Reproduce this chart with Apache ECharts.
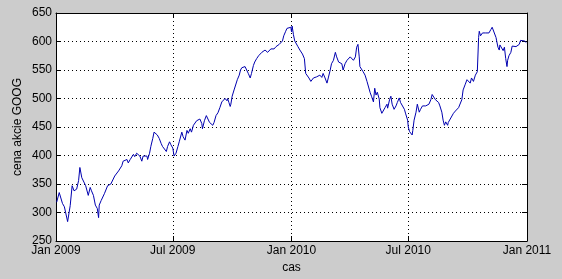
<!DOCTYPE html>
<html><head><meta charset="utf-8">
<script src="https://cdn.jsdelivr.net/npm/echarts@6/dist/echarts.min.js"></script>
<style>html,body{margin:0;padding:0;background:#cccccc}#c{width:562px;height:279px}</style>
</head><body><div id="c"></div><script>
const dates = [
'2009-01-02','2009-01-06','2009-01-11','2009-01-14','2009-01-19','2009-01-23','2009-01-26','2009-01-29',
'2009-02-02','2009-02-05','2009-02-07','2009-02-10','2009-02-12','2009-02-16','2009-02-18','2009-02-20','2009-02-23','2009-02-25','2009-02-28',
'2009-03-03','2009-03-06','2009-03-08','2009-03-09','2009-03-12','2009-03-14','2009-03-17','2009-03-19','2009-03-22','2009-03-25','2009-03-27','2009-03-30',
'2009-04-02','2009-04-05','2009-04-08','2009-04-10','2009-04-13','2009-04-15','2009-04-18','2009-04-21','2009-04-23','2009-04-26','2009-04-28',
'2009-05-01','2009-05-03','2009-05-06','2009-05-09','2009-05-11','2009-05-14','2009-05-16','2009-05-19','2009-05-22','2009-05-23','2009-05-26','2009-05-28','2009-05-31',
'2009-06-02','2009-06-05','2009-06-07','2009-06-10','2009-06-13','2009-06-15','2009-06-18','2009-06-21','2009-06-23','2009-06-26','2009-06-28',
'2009-07-01','2009-07-03','2009-07-06','2009-07-09','2009-07-11','2009-07-15','2009-07-17','2009-07-20','2009-07-23','2009-07-25','2009-07-28','2009-07-30',
'2009-08-02','2009-08-05','2009-08-07','2009-08-10','2009-08-12','2009-08-15','2009-08-16','2009-08-19','2009-08-22','2009-08-24','2009-08-27','2009-08-29',
'2009-09-01','2009-09-03','2009-09-06','2009-09-09','2009-09-12','2009-09-15','2009-09-17','2009-09-20','2009-09-23','2009-09-24','2009-09-26','2009-09-28','2009-09-29',
'2009-10-01','2009-10-04','2009-10-07','2009-10-09','2009-10-12','2009-10-14','2009-10-16','2009-10-18','2009-10-21','2009-10-24','2009-10-26','2009-10-29','2009-10-31',
'2009-11-03','2009-11-05','2009-11-08','2009-11-11','2009-11-13','2009-11-16','2009-11-18','2009-11-21','2009-11-24','2009-11-25','2009-11-28','2009-11-30',
'2009-12-03','2009-12-05','2009-12-08','2009-12-11','2009-12-13','2009-12-16','2009-12-18','2009-12-20','2009-12-23','2009-12-25','2009-12-28','2009-12-31',
'2010-01-01','2010-01-02','2010-01-04','2010-01-06','2010-01-09','2010-01-11','2010-01-14','2010-01-16','2010-01-18','2010-01-19','2010-01-21','2010-01-23','2010-01-26','2010-01-28','2010-01-31',
'2010-02-02','2010-02-04','2010-02-07','2010-02-09','2010-02-12','2010-02-14','2010-02-17','2010-02-19','2010-02-22','2010-02-25','2010-02-27',
'2010-03-02','2010-03-04','2010-03-07','2010-03-10','2010-03-12','2010-03-15','2010-03-17','2010-03-20','2010-03-22','2010-03-25','2010-03-28','2010-03-30',
'2010-04-02','2010-04-04','2010-04-07','2010-04-10','2010-04-12','2010-04-14','2010-04-16','2010-04-17','2010-04-20','2010-04-22','2010-04-25','2010-04-28','2010-04-30',
'2010-05-03','2010-05-05','2010-05-08','2010-05-10','2010-05-12','2010-05-14','2010-05-17','2010-05-18','2010-05-21','2010-05-23','2010-05-26','2010-05-29','2010-05-30',
'2010-06-02','2010-06-04','2010-06-06','2010-06-09','2010-06-12','2010-06-14','2010-06-17','2010-06-19','2010-06-22','2010-06-25','2010-06-27','2010-06-30',
'2010-07-01','2010-07-03','2010-07-05','2010-07-07','2010-07-08','2010-07-10','2010-07-13','2010-07-15','2010-07-17','2010-07-18','2010-07-20','2010-07-23','2010-07-26','2010-07-28','2010-07-31',
'2010-08-02','2010-08-05','2010-08-07','2010-08-09','2010-08-12','2010-08-14','2010-08-17','2010-08-19','2010-08-22','2010-08-24','2010-08-26','2010-08-28','2010-08-31',
'2010-09-01','2010-09-04','2010-09-06','2010-09-09','2010-09-12','2010-09-14','2010-09-17','2010-09-19','2010-09-22','2010-09-24','2010-09-27','2010-09-30',
'2010-10-02','2010-10-05','2010-10-07','2010-10-10','2010-10-13','2010-10-15','2010-10-16','2010-10-18','2010-10-19','2010-10-21','2010-10-24','2010-10-27','2010-10-29',
'2010-11-01','2010-11-03','2010-11-06','2010-11-08','2010-11-11','2010-11-14','2010-11-15','2010-11-17','2010-11-19','2010-11-20','2010-11-23','2010-11-25','2010-11-27','2010-11-29',
'2010-12-01','2010-12-02','2010-12-04','2010-12-07','2010-12-09','2010-12-12','2010-12-15','2010-12-17','2010-12-20','2010-12-22','2010-12-25','2010-12-28','2010-12-30','2010-12-31'
];
const prices = [
318,335,316,310,284,312,347,338,
341,356,379,361,364,347,350,330,344,338,330,
313,307,291,313,321,318,333,330,347,344,350,347,
364,361,373,370,382,390,387,393,387,393,396,
402,398,404,407,399,390,399,396,399,393,404,416,430,
441,444,436,430,421,416,419,407,416,424,419,
413,399,404,416,424,441,433,427,444,439,447,441,
453,456,461,458,464,456,447,461,470,467,458,461,
453,458,470,475,484,494,497,500,496,500,493,486,490,
504,515,518,533,541,550,554,554,556,553,544,536,544,
558,564,570,575,573,581,578,585,587,581,584,587,
590,587,591,592,595,597,601,610,618,623,621,625,
617,627,612,601,599,591,585,587,578,581,570,544,541,536,530,
527,536,533,538,536,541,537,544,536,527,536,
550,561,567,581,573,564,567,561,550,561,567,570,
573,570,567,573,590,595,573,556,553,547,541,530,527,
510,504,494,518,506,511,499,484,474,476,484,490,483,
498,504,490,481,487,493,501,493,490,481,473,462,
450,442,439,436,444,462,476,490,493,476,481,487,490,487,484,
490,498,507,504,498,501,493,487,476,462,453,459,453,
458,464,467,474,478,480,484,484,498,515,524,533,
530,527,536,530,541,541,547,607,618,610,615,618,615,
618,615,621,625,627,607,601,590,585,594,592,584,590,570,
556,567,575,581,592,594,591,594,595,602,604,601,602,598
];
const xTickDates = ['2009-01-01','2009-07-01','2010-01-01','2010-07-01','2011-01-01'];
const xTickLabels = ['Jan 2009','Jul 2009','Jan 2010','Jul 2010','Jan 2011'];
const yMin = 250, yMax = 650, yStep = 50;

const xTickValues = xTickDates.map(d => Date.parse(d));
const chart = echarts.init(document.getElementById('c'), null, {renderer: 'canvas'});
const font = 'Liberation Sans, Arial, Helvetica, sans-serif';
const fmt = v => { const i = xTickValues.indexOf(v); return i >= 0 ? xTickLabels[i] : ''; };
const tickStyle = {show: true, inside: true, length: 5, lineStyle: {color: '#000', width: 1}};
const lineStyle = {show: true, lineStyle: {color: '#000', width: 1}};
const xMin = xTickValues[0], xMax = xTickValues[xTickValues.length - 1];
chart.setOption({
  animation: false,
  backgroundColor: '#cccccc',
  grid: {left: 56, right: 35, top: 13, bottom: 32, show: true, backgroundColor: '#ffffff', borderWidth: 0},
  xAxis: [{
    type: 'value', min: xMin, max: xMax,
    name: 'cas', nameLocation: 'middle', nameGap: 21, nameMoveOverlap: false,
    nameTextStyle: {color: '#000', fontFamily: font, fontSize: 12, verticalAlign: 'top', padding: 0, lineHeight: 12},
    axisLine: lineStyle,
    axisTick: Object.assign({customValues: xTickValues}, tickStyle),
    axisLabel: {customValues: xTickValues, color: '#000', fontFamily: font, fontSize: 12, margin: 4, formatter: fmt, showMinLabel: true, showMaxLabel: true, hideOverlap: false},
    splitLine: {show: true, lineStyle: {color: '#000', type: [1, 3], width: 1}}
  }, {
    type: 'value', position: 'top', min: xMin, max: xMax,
    axisLine: lineStyle,
    axisTick: Object.assign({customValues: xTickValues}, tickStyle),
    axisLabel: {show: false}, splitLine: {show: false}
  }],
  yAxis: [{
    type: 'value', min: yMin, max: yMax, interval: yStep,
    name: 'cena akcie GOOG', nameLocation: 'middle', nameGap: 32, nameMoveOverlap: false,
    nameTextStyle: {color: '#000', fontFamily: font, fontSize: 12},
    axisLine: lineStyle, axisTick: tickStyle,
    axisLabel: {color: '#000', fontFamily: font, fontSize: 12, margin: 4},
    splitLine: {show: true, lineStyle: {color: '#000', type: [1, 3], width: 1}}
  }, {
    type: 'value', position: 'right', min: yMin, max: yMax, interval: yStep,
    axisLine: lineStyle, axisTick: tickStyle, axisLabel: {show: false}, splitLine: {show: false}
  }],
  series: [{
    type: 'line', xAxisIndex: 0, yAxisIndex: 0,
    data: dates.map((d, i) => [Date.parse(d), prices[i]]),
    showSymbol: false, symbol: 'none',
    lineStyle: {color: '#0000b0', width: 1}
  }]
});
</script></body></html>
